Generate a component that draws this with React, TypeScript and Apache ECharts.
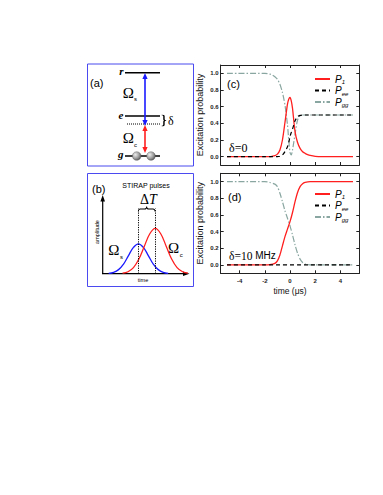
import React, { useEffect, useRef } from 'react';
import * as echarts from 'echarts';

// ---------- data: panel (c), delta = 0 ----------
const timeC = [-5, -2, -1.6, -1.4, -1.2, -1.0, -0.8, -0.6, -0.4, -0.2, -0.1, 0, 0.1, 0.2, 0.4, 0.6, 0.8, 1.0, 1.2, 1.4, 1.6, 2.0, 2.5, 5];
const p1C = [0, 0, 0, 0.005, 0.012, 0.03, 0.08, 0.2, 0.41, 0.63, 0.69, 0.71, 0.67, 0.58, 0.3, 0.17, 0.1, 0.06, 0.04, 0.025, 0.015, 0.004, 0, 0];
const peeC = [0, 0, 0, 0, 0, 0, 0.005, 0.02, 0.06, 0.12, 0.17, 0.24, 0.29, 0.33, 0.43, 0.48, 0.495, 0.5, 0.5, 0.5, 0.5, 0.5, 0.5, 0.5];
const pggC = [1, 1, 0.99, 0.98, 0.96, 0.93, 0.87, 0.77, 0.62, 0.38, 0.2, 0.05, 0.02, 0.08, 0.27, 0.44, 0.49, 0.5, 0.5, 0.5, 0.5, 0.5, 0.5, 0.5];

// ---------- data: panel (d), delta = 10 MHz ----------
const timeD = [-5, -2, -1.6, -1.2, -1.0, -0.8, -0.6, -0.4, -0.2, 0, 0.2, 0.4, 0.6, 0.8, 1.0, 1.2, 1.6, 2, 5];
const p1D = [0, 0, 0.003, 0.02, 0.05, 0.12, 0.23, 0.34, 0.43, 0.52, 0.63, 0.76, 0.87, 0.94, 0.975, 0.99, 1, 1, 1];
const peeD = [0, 0, 0, 0, 0, 0, 0, 0, 0, 0, 0, 0, 0, 0, 0, 0, 0, 0, 0];
const pggD = [1, 1, 0.99, 0.97, 0.94, 0.86, 0.76, 0.65, 0.56, 0.47, 0.36, 0.24, 0.14, 0.07, 0.03, 0.01, 0.002, 0, 0];

// ---------- schematic STIRAP pulses (panel b) ----------
const stokesT = [-3, -2.5, -2, -1.5, -1, -0.5, 0, 0.5, 1, 1.5, 2, 2.5, 3];
const stokesAmp = [0.007, 0.03, 0.09, 0.21, 0.4, 0.58, 0.66, 0.58, 0.4, 0.21, 0.09, 0.03, 0.007];
const pumpT = [-1.6, -1.05, -0.5, 0.05, 0.6, 1.15, 1.7, 2.25, 2.8, 3.35, 3.9, 4.45, 5.0];
const pumpAmp = [0.011, 0.044, 0.135, 0.325, 0.607, 0.882, 1, 0.882, 0.607, 0.325, 0.135, 0.044, 0.011];
const pulseCenters = [0, 1.7];

const legendLabels: Record<string, string> = {
  P1c: '{p|P}{s|1}', Peec: '{p|P}{s|ee}', Pggc: '{p|P}{s|gg}',
  P1d: '{p|P}{s|1}', Peed: '{p|P}{s|ee}', Pggd: '{p|P}{s|gg}',
};

const SANS = 'Liberation Sans, Arial, sans-serif';
const SERIF = 'Liberation Serif, Times New Roman, serif';
const RED = '#ff1f1f';
const BLUE = '#1a1aff';
const GRAY = '#8aa6a0';
const BOX = '#4a4af0';

echarts.graphic.registerShape(
  'braceH',
  echarts.graphic.extendPath('M0,10 Q0,5 6,5 L19,5 Q25,5 25,0 Q25,5 31,5 L44,5 Q50,5 50,10', {})
);
echarts.graphic.registerShape(
  'braceV',
  echarts.graphic.extendPath('M0,0 Q5,0 5,6 L5,19 Q5,25 10,25 Q5,25 5,31 L5,44 Q5,50 0,50', {})
);

function txt(x: number, y: number, text: string, opts: any = {}) {
  const { rotation, ...style } = opts;
  return {
    type: 'text', x, y, rotation: rotation || 0,
    style: { text, fill: '#000', align: 'left', verticalAlign: 'middle', fontFamily: SANS, fontSize: 10, ...style },
  };
}
function ln(x1: number, y1: number, x2: number, y2: number, stroke = '#000', lineWidth = 1, lineDash?: number[]) {
  return { type: 'line', shape: { x1, y1, x2, y2 }, style: { stroke, lineWidth, lineDash } };
}
function tri(points: number[][], fill: string) {
  return { type: 'polygon', shape: { points }, style: { fill } };
}
function vArrow(x: number, yTop: number, yBot: number, color: string) {
  return [
    ln(x, yTop + 5, x, yBot - 5, color, 1.6),
    tri([[x, yTop], [x - 2.6, yTop + 6], [x + 2.6, yTop + 6]], color),
    tri([[x, yBot], [x - 2.6, yBot - 6], [x + 2.6, yBot - 6]], color),
  ];
}

function buildGraphic() {
  const ball = (cx: number) => ({
    type: 'circle', shape: { cx, cy: 156, r: 4.3 },
    style: {
      fill: new echarts.graphic.RadialGradient(0.35, 0.35, 0.7, [
        { offset: 0, color: '#eeeeee' }, { offset: 0.6, color: '#a0a0a0' }, { offset: 1, color: '#5a5a5a' },
      ]),
      stroke: '#555', lineWidth: 0.4,
    },
  });
  const els: any[] = [
    // boxes
    { type: 'rect', shape: { x: 87.5, y: 64, width: 106, height: 102 }, style: { fill: 'none', stroke: BOX, lineWidth: 1 } },
    { type: 'rect', shape: { x: 87.5, y: 173.5, width: 106, height: 113 }, style: { fill: 'none', stroke: BOX, lineWidth: 1 } },
    // (a)
    txt(90, 83, '(a)', { fontSize: 11 }),
    ln(125, 72.7, 160, 72.7, '#000', 1.5),
    ln(125, 116, 160, 116, '#000', 1.5),
    ln(127, 124, 160, 124, '#000', 1, [1, 1]),
    ln(125, 156, 160, 156, '#000', 1.5),
    txt(123.5, 71, 'r', { align: 'right', fontFamily: SERIF, fontStyle: 'italic', fontWeight: 'bold', fontSize: 11 }),
    txt(123.5, 115, 'e', { align: 'right', fontFamily: SERIF, fontStyle: 'italic', fontWeight: 'bold', fontSize: 11 }),
    txt(123.5, 154, 'g', { align: 'right', fontFamily: SERIF, fontStyle: 'italic', fontWeight: 'bold', fontSize: 11 }),
    ...vArrow(145, 73, 126, BLUE),
    ...vArrow(145, 125, 153, RED),
    txt(128.3, 93, 'Ω', { align: 'center', fontFamily: SERIF, fontSize: 15 }),
    txt(134, 99, 's', { fontSize: 6 }),
    txt(128.3, 138, 'Ω', { align: 'center', fontFamily: SERIF, fontSize: 15 }),
    txt(134, 145, 'c', { fontSize: 6 }),
    { type: 'braceV', x: 161.7, y: 115, scaleX: 0.45, scaleY: 0.22, style: { fill: 'none', stroke: '#000', lineWidth: 1, strokeNoScale: true } },
    txt(168, 120.5, 'δ', { fontFamily: SERIF, fontSize: 12 }),
    ball(136.7),
    ball(151),
    // (b)
    txt(92, 189, '(b)', { fontSize: 11 }),
    txt(146, 185.7, 'STIRAP pulses', { align: 'center', fontSize: 7 }),
    ln(102.7, 273.7, 102.7, 200, '#000', 1.2),
    tri([[102.7, 195], [100.4, 201.5], [105, 201.5]], '#000'),
    ln(102, 273.7, 184, 273.7, '#000', 1.2),
    tri([[189.5, 273.7], [183, 271.4], [183, 276]], '#000'),
    txt(96.5, 232, 'amplitude', { align: 'center', fontSize: 5.5, rotation: Math.PI / 2 }),
    txt(143, 280, 'time', { align: 'center', fontSize: 5.5 }),
    { type: 'braceH', x: 138.3, y: 206.5, scaleX: 0.334, scaleY: 0.5, style: { fill: 'none', stroke: '#000', lineWidth: 1, strokeNoScale: true } },
    {
      type: 'text', x: 148.5, y: 199.5,
      style: {
        text: '{d|Δ}{t|T}', align: 'center', verticalAlign: 'middle',
        rich: {
          d: { fontFamily: SERIF, fontSize: 14, fill: '#000' },
          t: { fontFamily: SERIF, fontSize: 14, fontStyle: 'italic', fill: '#000' },
        },
      },
    },
    txt(113.8, 250, 'Ω', { align: 'center', fontFamily: SERIF, fontSize: 15 }),
    txt(120, 256.5, 's', { fontSize: 6 }),
    txt(173.7, 248.3, 'Ω', { align: 'center', fontFamily: SERIF, fontSize: 15 }),
    txt(179.7, 254.5, 'c', { fontSize: 6 }),
    // (c) / (d) labels
    txt(227, 83.5, '(c)', { fontSize: 11 }),
    txt(228, 197, '(d)', { fontSize: 11 }),
    txt(229, 148, 'δ=0', { fontFamily: SERIF, fontSize: 12 }),
    {
      type: 'text', x: 229, y: 255.5,
      style: {
        text: '{a|δ=10}{b| MHz}', align: 'left', verticalAlign: 'middle',
        rich: {
          a: { fontFamily: SERIF, fontSize: 11.5, fill: '#000' },
          b: { fontFamily: SANS, fontSize: 10, fill: '#000' },
        },
      },
    },
  ];
  return els;
}

const axisColor = '#222';
function xAxisDef(gridIndex: number, position: 'bottom' | 'top', showLabels: boolean, name?: string) {
  return {
    gridIndex, type: 'value', position, min: -5.5, max: 5.5, splitNumber: 5,
    axisLine: { show: true, onZero: false, lineStyle: { color: axisColor, width: 1 } },
    axisTick: { show: true, inside: true, length: 3, lineStyle: { color: axisColor, width: 1 } },
    axisLabel: {
      show: showLabels, margin: 5, fontSize: 6, fontWeight: 'bold', color: '#222', fontFamily: SANS,
      formatter: (v: number) => (Math.abs(v) > 5 ? '' : String(v)),
    },
    splitLine: { show: false },
    name: name || '', nameLocation: 'middle', nameGap: 13,
    nameTextStyle: { fontSize: 8.5, color: '#111', fontFamily: SANS },
  };
}
function yAxisDef(gridIndex: number, position: 'left' | 'right', showLabels: boolean) {
  return {
    gridIndex, type: 'value', position, min: -0.1, max: 1.1, splitNumber: 6,
    axisLine: { show: true, onZero: false, lineStyle: { color: axisColor, width: 1 } },
    axisTick: { show: true, inside: true, length: 3, lineStyle: { color: axisColor, width: 1 } },
    axisLabel: {
      show: showLabels, margin: 2, fontSize: 6, fontWeight: 'bold', color: '#222', fontFamily: SANS,
      formatter: (v: number) => (v < -0.01 || v > 1.01 ? '' : v.toFixed(1)),
    },
    splitLine: { show: false },
    name: showLabels ? 'Excitation probability' : '', nameLocation: 'middle', nameGap: 16,
    nameTextStyle: { fontSize: 9, color: '#111', fontFamily: SANS },
  };
}

function lineSeries(name: string, xi: number, times: number[], vals: number[], style: any) {
  return {
    name, type: 'line', xAxisIndex: xi, yAxisIndex: xi,
    data: times.map((t, i) => [t, vals[i]]),
    symbol: 'none', showSymbol: false, smooth: 0.25, silent: true,
    lineStyle: style, itemStyle: { color: style.color },
  };
}

function legendDef(names: string[], top: number) {
  return {
    data: names, orient: 'vertical', left: 309, top, itemWidth: 15, itemHeight: 8, itemGap: 0.5,
    selectedMode: false,
    itemStyle: { opacity: 0 },
    formatter: (n: string) => legendLabels[n],
    textStyle: {
      rich: {
        p: { fontFamily: SANS, fontStyle: 'italic', fontSize: 10, lineHeight: 12, color: '#000' },
        s: { fontFamily: SANS, fontStyle: 'italic', fontSize: 6, lineHeight: 5, verticalAlign: 'bottom', color: '#000' },
      },
    },
  };
}

function buildOption() {
  const redStyle = { color: RED, width: 1.3 };
  const blackStyle = { color: '#000', width: 1.2, type: [4, 3] };
  const grayStyle = { color: GRAY, width: 1.2, type: [6, 2, 1.5, 2] };
  return {
    animation: false,
    backgroundColor: '#fff',
    grid: [
      { left: 220.7, top: 65, width: 138.6, height: 100 },
      { left: 220.7, top: 173.3, width: 138.6, height: 100 },
      { left: 102.7, top: 196.7, width: 85.3, height: 77 },
    ],
    xAxis: [
      xAxisDef(0, 'bottom', false),
      xAxisDef(0, 'top', false),
      xAxisDef(1, 'bottom', true, 'time (μs)'),
      xAxisDef(1, 'top', false),
      { gridIndex: 2, type: 'value', min: -3.6, max: 5.0, show: false },
    ],
    yAxis: [
      yAxisDef(0, 'left', true),
      yAxisDef(0, 'right', false),
      yAxisDef(1, 'left', true),
      yAxisDef(1, 'right', false),
      { gridIndex: 2, type: 'value', min: 0, max: 1.7, show: false },
    ],
    legend: [legendDef(['P1c', 'Peec', 'Pggc'], 69), legendDef(['P1d', 'Peed', 'Pggd'], 184)],
    series: [
      lineSeries('Pggc', 0, timeC, pggC, grayStyle),
      lineSeries('P1c', 0, timeC, p1C, redStyle),
      lineSeries('Peec', 0, timeC, peeC, blackStyle),
      lineSeries('Pggd', 2, timeD, pggD, grayStyle),
      lineSeries('P1d', 2, timeD, p1D, redStyle),
      lineSeries('Peed', 2, timeD, peeD, blackStyle),
      {
        type: 'line', xAxisIndex: 4, yAxisIndex: 4, data: stokesT.map((t, i) => [t, stokesAmp[i]]),
        symbol: 'none', smooth: 0.4, silent: true, lineStyle: { color: BLUE, width: 1.3 },
        markLine: {
          silent: true, symbol: ['none', 'none'], label: { show: false },
          lineStyle: { color: '#000', width: 1, type: [1.2, 1.2] },
          data: pulseCenters.map((c) => [{ coord: [c, 0] }, { coord: [c, 1.44] }]),
        },
      },
      {
        type: 'line', xAxisIndex: 4, yAxisIndex: 4, data: pumpT.map((t, i) => [t, pumpAmp[i]]),
        symbol: 'none', smooth: 0.4, silent: true, lineStyle: { color: RED, width: 1.3 },
      },
    ],
    graphic: { elements: buildGraphic() },
  };
}

export default function App() {
  const ref = useRef<HTMLDivElement>(null);
  useEffect(() => {
    const chart = echarts.init(ref.current!, null, { renderer: 'svg' });
    chart.setOption(buildOption() as any);
    return () => chart.dispose();
  }, []);
  return (
    <div
      ref={ref}
      style={{ position: 'fixed', left: 0, top: 0, width: 383, height: 495, background: '#fff' }}
    />
  );
}
